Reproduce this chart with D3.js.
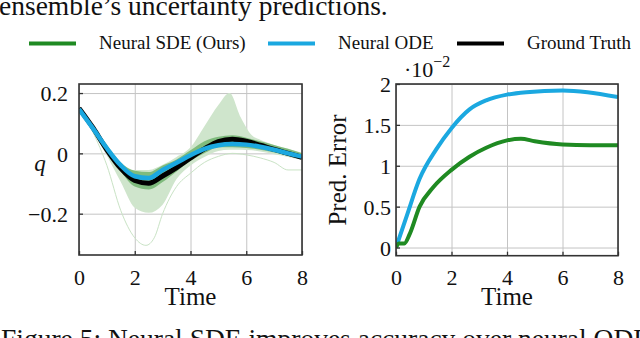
<!DOCTYPE html>
<html>
<head>
<meta charset="utf-8">
<script src="https://cdn.jsdelivr.net/npm/d3@7"></script>
<style>
  body { margin: 0; background: #fff; }
  svg { display: block; }
  text { font-family: "Liberation Serif", "Times New Roman", serif; fill: #111; }
</style>
</head>
<body>
<svg id="fig" width="640" height="338"></svg>
<script>
// left panel: trajectory q(t)
const tGrid = [0, 0.5, 1, 1.5, 2, 2.5, 3, 3.5, 4, 4.5, 5, 5.5, 6, 6.5, 7, 7.5, 8]
const groundTruth = [0.15, 0.085, 0.012, -0.05, -0.09, -0.099, -0.075, -0.047, -0.015, 0.015, 0.039, 0.047, 0.04, 0.027, 0.013, 0.0, -0.013]
const odeTraj = [0.147, 0.083, 0.017, -0.04, -0.076, -0.082, -0.055, -0.031, -0.006, 0.015, 0.027, 0.031, 0.029, 0.022, 0.012, 0.0, -0.011]
// SDE ensemble spread (dark inner band)
const innerHi = [0.155, 0.092, 0.025, -0.03, -0.058, -0.062, -0.04, -0.02, 0.01, 0.04, 0.055, 0.06, 0.052, 0.04, 0.028, 0.015, 0.0]
const innerLo = [0.145, 0.075, 0.005, -0.06, -0.11, -0.12, -0.095, -0.06, -0.025, 0.0, 0.02, 0.02, 0.018, 0.012, 0.003, -0.008, -0.02]
// SDE uncertainty (light outer band)
const bandT = [0, 0.5, 1, 1.5, 2, 2.5, 3, 3.5, 4, 4.5, 5, 5.4, 5.8, 6.2, 6.5, 7, 7.5, 8]
const outerHi = [0.155, 0.095, 0.03, -0.03, -0.055, -0.055, -0.038, -0.012, 0.02, 0.09, 0.16, 0.2, 0.12, 0.06, 0.045, 0.028, 0.015, 0.002]
const outerLo = [0.145, 0.072, -0.008, -0.095, -0.18, -0.197, -0.17, -0.085, -0.04, -0.012, 0.008, 0.012, 0.012, 0.01, 0.006, -0.003, -0.012, -0.022]
// one stray sample
const strayT = [0, 0.5, 1, 1.5, 2, 2.4, 2.7, 3, 3.5, 4, 4.5, 5, 5.5, 6, 6.5, 7, 7.5, 8]
const strayQ = [0.15, 0.07, -0.04, -0.19, -0.28, -0.305, -0.28, -0.2, -0.11, -0.066, -0.03, -0.01, 0.0, -0.005, -0.015, -0.03, -0.055, -0.055]

// right panel: prediction error (x 1e-2)
const sdeT = [0, 0.1, 0.3, 0.5, 0.85, 1.35, 2, 2.65, 3.25, 4, 4.5, 5, 6, 7, 8]
const sdeErr = [0, 0.05, 0.05, 0.17, 0.5, 0.74, 0.95, 1.11, 1.22, 1.31, 1.33, 1.3, 1.26, 1.25, 1.25]
const odeT = [0, 0.4, 0.85, 1.45, 2, 2.65, 3.25, 4, 4.7, 6, 6.9, 8]
const odeErr = [0, 0.4, 0.84, 1.2, 1.46, 1.69, 1.8, 1.87, 1.9, 1.92, 1.9, 1.84]

const xTicks = [0, 2, 4, 6, 8]
const qTicks = [-0.2, 0, 0.2]
const qTickLabels = ['\u22120.2', '0', '0.2']
const errTicks = [0, 0.5, 1, 1.5, 2]
const errTickLabels = ['0', '0.5', '1', '1.5', '2']

const legendNames = ['Neural SDE (Ours)', 'Neural ODE', 'Ground Truth']

const serif = '"Liberation Serif", "Times New Roman", serif'
const green = '#1f8a22'
const blue = '#1ba8e0'
const black = '#000'

const svg = d3.select('#fig')

// draws the frame, grid, ticks of one panel and returns its scales
function drawPanel(g, id, x0, x1, y0, y1, yDomain, yTicks, yLabels, yPad) {
    let xScale = d3.scaleLinear().domain([0, 8]).range([x0, x1])
    let yScale = d3.scaleLinear().domain(yDomain).range([y1, y0])

    // grid
    g.append('g').attr('transform', 'translate(0,' + y1 + ')')
        .call(d3.axisBottom(xScale).tickValues(xTicks).tickSize(-(y1 - y0)).tickFormat(''))
        .call(a => a.select('.domain').remove())
        .selectAll('line').attr('stroke', '#c4c4c4').attr('stroke-width', 1)
    g.append('g').attr('transform', 'translate(' + x0 + ',0)')
        .call(d3.axisLeft(yScale).tickValues(yTicks).tickSize(-(x1 - x0)).tickFormat(''))
        .call(a => a.select('.domain').remove())
        .selectAll('line').attr('stroke', '#c4c4c4').attr('stroke-width', 1)

    g.append('clipPath').attr('id', id).append('rect')
        .attr('x', x0).attr('y', y0).attr('width', x1 - x0).attr('height', y1 - y0)

    let plot = g.append('g').attr('clip-path', 'url(#' + id + ')')

    // axes with inward ticks, drawn after the data
    let axes = g.append('g')
    return {xScale, yScale, plot, axes, finish: () => {
        let xa = axes.append('g').attr('transform', 'translate(0,' + y1 + ')')
            .call(d3.axisBottom(xScale).tickValues(xTicks).tickSize(-4).tickPadding(14))
        xa.select('.domain').remove()
        let ya = axes.append('g').attr('transform', 'translate(' + x0 + ',0)')
            .call(d3.axisLeft(yScale).tickValues(yTicks).tickSize(-4).tickPadding(yPad)
                .tickFormat((d, i) => yLabels[i]))
        ya.select('.domain').remove()
        ya.selectAll('text').attr('dy', '0.36em')
        axes.selectAll('g').attr('font-family', serif).attr('font-size', 22)
        axes.selectAll('.tick text').style('font-family', serif).style('font-size', '22px').attr('fill', '#111')
        axes.selectAll('.tick line').attr('stroke', '#333').attr('stroke-width', 1.3)
        axes.append('rect').attr('x', x0).attr('y', y0).attr('width', x1 - x0).attr('height', y1 - y0)
            .attr('fill', 'none').attr('stroke', '#333').attr('stroke-width', 1.6)
    }}
}

// ---- left panel
let left = drawPanel(svg.append('g'), 'clipL', 79, 302, 84, 255, [-0.337, 0.23], qTicks, qTickLabels, 11)

let area = (ts, lo, hi, xs, ys) => d3.area()
    .x((d, i) => xs(ts[i])).y0((d, i) => ys(lo[i])).y1((d, i) => ys(hi[i]))
    .curve(d3.curveMonotoneX)(ts)
let line = (ts, vs, xs, ys) => d3.line()
    .x((d, i) => xs(ts[i])).y((d, i) => ys(vs[i]))
    .curve(d3.curveMonotoneX)(ts)

left.plot.append('path').attr('d', area(bandT, outerLo, outerHi, left.xScale, left.yScale))
    .attr('fill', '#cfe5cc')
left.plot.append('path').attr('d', line(strayT, strayQ, left.xScale, left.yScale))
    .attr('fill', 'none').attr('stroke', '#c9e3c5').attr('stroke-width', 1)
left.plot.append('path').attr('d', area(tGrid, innerLo, innerHi, left.xScale, left.yScale))
    .attr('fill', '#4a9e48').attr('opacity', 0.6)
left.plot.append('path').attr('d', line(tGrid, groundTruth, left.xScale, left.yScale))
    .attr('fill', 'none').attr('stroke', black).attr('stroke-width', 5)
left.plot.append('path').attr('d', line(tGrid, odeTraj, left.xScale, left.yScale))
    .attr('fill', 'none').attr('stroke', blue).attr('stroke-width', 4.5)
left.finish()

svg.append('text').attr('x', 40).attr('y', 171).attr('text-anchor', 'middle')
    .style('font-size', '23px').style('font-style', 'italic').text('q')
svg.append('text').attr('x', 190.5).attr('y', 305).attr('text-anchor', 'middle')
    .style('font-size', '25px').text('Time')

// ---- right panel
let right = drawPanel(svg.append('g'), 'clipR', 396, 618, 84, 255.7, [-0.1, 2.0], errTicks, errTickLabels, 5)
right.plot.append('path').attr('d', line(odeT, odeErr, right.xScale, right.yScale))
    .attr('fill', 'none').attr('stroke', blue).attr('stroke-width', 4)
right.plot.append('path').attr('d', line(sdeT, sdeErr, right.xScale, right.yScale))
    .attr('fill', 'none').attr('stroke', green).attr('stroke-width', 4)
right.finish()

let sci = svg.append('text').attr('x', 404).attr('y', 77).style('font-size', '22px')
sci.append('tspan').text('\u00b710')
sci.append('tspan').attr('dy', -10).style('font-size', '16px').text('\u22122')

svg.append('text').attr('transform', 'translate(346,170) rotate(-90)').attr('text-anchor', 'middle')
    .style('font-size', '25px').text('Pred. Error')
svg.append('text').attr('x', 507).attr('y', 305).attr('text-anchor', 'middle')
    .style('font-size', '25px').text('Time')

// ---- legend
let legendX = [29, 268, 457]
let legendColors = [green, blue, black]
let legend = svg.append('g')
legend.selectAll('line').data(legendNames).join('line')
    .attr('x1', (d, i) => legendX[i]).attr('x2', (d, i) => legendX[i] + 47)
    .attr('y1', 43.5).attr('y2', 43.5)
    .attr('stroke', (d, i) => legendColors[i]).attr('stroke-width', 4)
legend.selectAll('text').data(legendNames).join('text')
    .attr('x', (d, i) => legendX[i] + 70).attr('y', 49)
    .style('font-size', '19px').attr('fill', '#222')
    .text(d => d)

// surrounding paper text, cut by the crop
svg.append('text').attr('x', -1).attr('y', 15).style('font-size', '27.5px')
    .text('ensemble\u2019s uncertainty predictions.')
svg.append('text').attr('x', 1).attr('y', 348).style('font-size', '27.5px')
    .text('Figure 5: Neural SDE improves accuracy over neural ODE')
</script>
</body>
</html>
